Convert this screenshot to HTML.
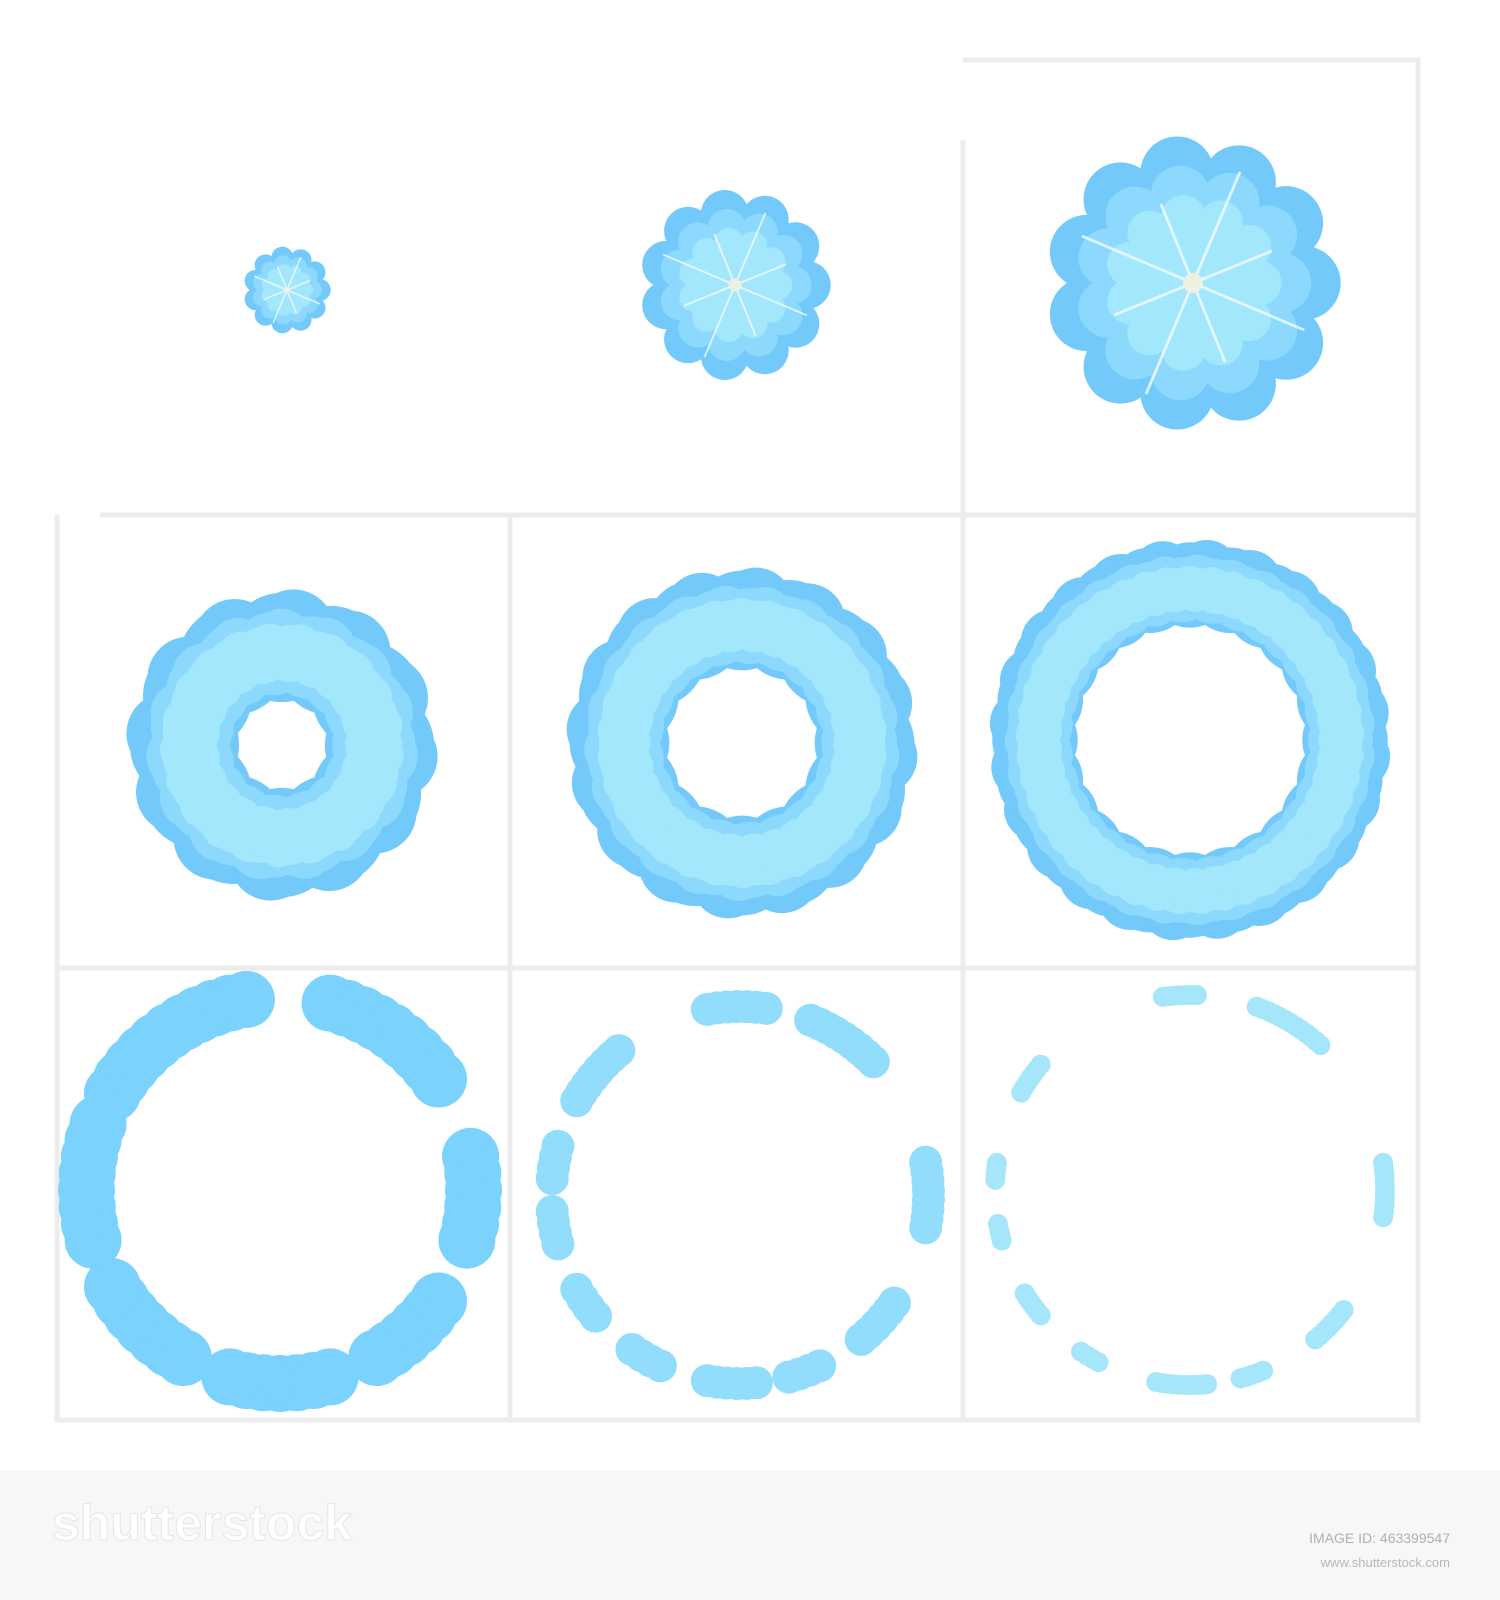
<!DOCTYPE html>
<html><head><meta charset="utf-8"><style>
html,body{margin:0;padding:0;background:#fff;}
svg{display:block}
</style></head><body>
<svg id="s" width="1500" height="1600" viewBox="0 0 1500 1600" font-family="Liberation Sans, sans-serif">
<g stroke="#ececec" stroke-width="5" fill="none">
<line x1="963" y1="60" x2="1418" y2="60"/>
<line x1="1418" y1="58" x2="1418" y2="1422"/>
<line x1="963" y1="140" x2="963" y2="1422"/>
<line x1="510" y1="515" x2="510" y2="1422"/>
<line x1="57" y1="515" x2="57" y2="1422"/>
<line x1="100" y1="515" x2="1418" y2="515"/>
<line x1="57" y1="968" x2="1418" y2="968"/>
<line x1="57" y1="1420" x2="1418" y2="1420"/>
</g>
<g id="art"></g>
<rect x="0" y="1470" width="1500" height="130" fill="#f7f7f7"/>
<text x="52" y="1540" font-size="50" font-weight="bold" fill="#fff" stroke="#e6e6e6" stroke-width="1">shutterstock</text>
<text x="1450" y="1543" font-size="14" fill="#b0b0b0" text-anchor="end">IMAGE ID: 463399547</text>
<text x="1450" y="1567" font-size="13" fill="#b8b8b8" text-anchor="end">www.shutterstock.com</text>
</svg>
<script>
const NS='http://www.w3.org/2000/svg';
const art=document.getElementById('art');
const C1='#74c9fb',C2='#8cd9fd',C3='#a3e7fd';
function circ(g,x,y,r,f){const c=document.createElementNS(NS,'circle');c.setAttribute('cx',x);c.setAttribute('cy',y);c.setAttribute('r',r);c.setAttribute('fill',f);g.appendChild(c);}
function grp(name){const g=document.createElementNS(NS,'g');


art.appendChild(g);return g;}
function blob(name,cx,cy,R){const g=grp(name);
[[1,C1],[0.8,C2],[0.6,C3]].forEach(([k,col])=>{const r=R*k;circ(g,cx,cy,r*0.8,col);const n=11;for(let i=0;i<n;i++){const a=i/n*6.283;circ(g,cx+Math.cos(a)*r*0.78,cy+Math.sin(a)*r*0.78,r*0.26,col);}});
const st=document.createElementNS(NS,'g');st.setAttribute('opacity','0.8');
for(let i=0;i<4;i++){const a=i/4*3.1416+0.4;const l=R*(i%2?0.6:0.85);const p=document.createElementNS(NS,'line');
p.setAttribute('x1',cx-Math.cos(a)*l);p.setAttribute('y1',cy-Math.sin(a)*l);p.setAttribute('x2',cx+Math.cos(a)*l);p.setAttribute('y2',cy+Math.sin(a)*l);
p.setAttribute('stroke','#f4fbff');p.setAttribute('stroke-width',Math.max(1.5,R*0.02));st.appendChild(p);}
circ(st,cx,cy,R*0.07,'#fff5d8');g.appendChild(st);}
function ring(name,cx,cy,R,r,segs,col1){const g=grp(name);const w=R-r;
const layers=col1?[[0,col1]]:[[0,C1],[0.15,C2],[0.3,C3]];
layers.forEach(([k,col])=>{const mid=(R+r)/2-(k?w*0.05:0);const bw=w*(1-k*1.6)/2;
if(!segs){const n=Math.round(6.283*mid/(bw*0.9));for(let i=0;i<n;i++){const a=i/n*6.283;circ(g,cx+Math.cos(a)*mid,cy+Math.sin(a)*mid,bw*0.95,col);
circ(g,cx+Math.cos(a+0.1)*(mid+bw*0.3),cy+Math.sin(a+0.1)*(mid+bw*0.3),bw*0.72,col);}}
else segs.forEach(([a0,a1])=>{const n=Math.max(2,Math.round((a1-a0)/57.3*mid/(bw*0.6)));for(let i=0;i<=n;i++){const a=(a0+(a1-a0)*i/n)/57.3;circ(g,cx+Math.cos(a)*mid,cy+Math.sin(a)*mid,bw,col);}});});}
blob('cloud-frame-1',287,290,42);
blob('cloud-frame-2',735,285,92);
blob('cloud-frame-3',1193,283,142);
ring('cloud-frame-4',282,745,155,40);
ring('cloud-frame-5',742,743,175,70);
ring('cloud-frame-6',1190,740,200,110);
ring('cloud-frame-7',280,1190,222,165,[[-150,-100],[-75,-35],[-10,15],[35,60],[75,105],[120,150],[165,200]],'#7ad2fd');
ring('cloud-frame-8',740,1195,205,172,[[-150,-130],[-100,-82],[-68,-45],[-10,10],[35,50],[65,75],[85,100],[115,125],[140,150],[165,175],[185,195]],'#92dcfc');
ring('cloud-frame-9',1190,1190,205,185,[[-150,-140],[-98,-88],[-70,-48],[-8,8],[38,50],[68,75],[85,100],[118,124],[140,148],[165,170],[183,188]],'#a6e6fb');
</script>
</body></html>
